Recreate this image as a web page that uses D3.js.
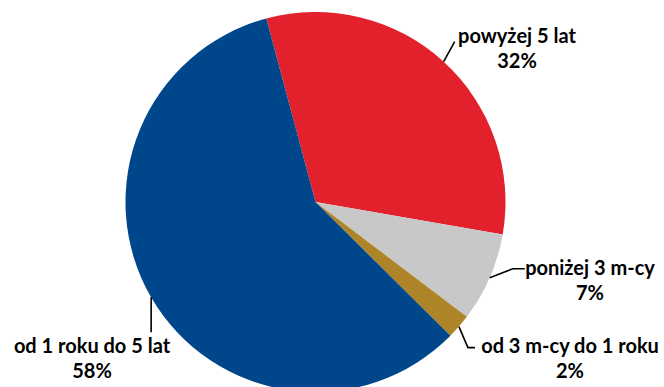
<!DOCTYPE html>
<html>
<head>
<meta charset="utf-8">
<script src="https://cdn.jsdelivr.net/npm/d3@7/dist/d3.min.js"></script>
<style>
  html, body { margin: 0; padding: 0; background: #fff; }
  svg { display: block; }
  text { font-family: Lato, "Liberation Sans", sans-serif; font-weight: bold; fill: #000; }
</style>
</head>
<body>
<svg id="chart" width="664" height="387"></svg>
<script>
// Data
const categories = ["powyżej 5 lat", "poniżej 3 m-cy", "od 3 m-cy do 1 roku", "od 1 roku do 5 lat"];
const values = [31.9, 7.6, 2.1, 58.4];
const percentLabels = ["32%", "7%", "2%", "58%"];
const colors = ["#E3212D", "#C8C8C8", "#AD8427", "#00468B"];

// Layout (label placement, not data)
const labelLayout = [
  { leader: [[11, -20]], tx: 517, ty: 43 },
  { leader: [[23, -9], [35, -9]], tx: 590, ty: 275 },
  { leader: [[9, 21], [16, 21]], tx: 570, ty: 353 },
  { leader: [[0, 35]], tx: 92, ty: 353 }
];

const W = 664, H = 387;
const cx = 315.5, cy = 202, R = 190;
const svg = d3.select("#chart");
const g = svg.append("g").attr("transform", `translate(${cx},${cy})`);

const pie = d3.pie().sort(null).value(d => d)
  .startAngle(-15 * Math.PI / 180)
  .endAngle(345 * Math.PI / 180);
const arcs = pie(values);
const arc = d3.arc().innerRadius(0).outerRadius(R);
const edge = d3.arc().innerRadius(R).outerRadius(R);

g.selectAll("path.slice").data(arcs).join("path")
  .attr("class", "slice")
  .attr("d", arc)
  .attr("fill", (d, i) => colors[i]);

arcs.forEach((d, i) => {
  const [sx, sy] = edge.centroid(d);
  const pts = [[sx, sy]].concat(labelLayout[i].leader.map(([dx, dy]) => [sx + dx, sy + dy]));
  g.append("path")
    .attr("d", d3.line()(pts))
    .attr("fill", "none")
    .attr("stroke", "#000")
    .attr("stroke-width", 1.6);
});

const lbl = svg.append("g");
arcs.forEach((d, i) => {
  const L = labelLayout[i];
  const t = lbl.append("text")
    .attr("x", L.tx).attr("y", L.ty)
    .attr("text-anchor", "middle")
    .attr("font-size", 20);
  t.append("tspan").attr("x", L.tx).attr("dy", 0).text(categories[i]);
  t.append("tspan").attr("x", L.tx).attr("dy", 25).text(percentLabels[i]);
});
</script>
</body>
</html>
